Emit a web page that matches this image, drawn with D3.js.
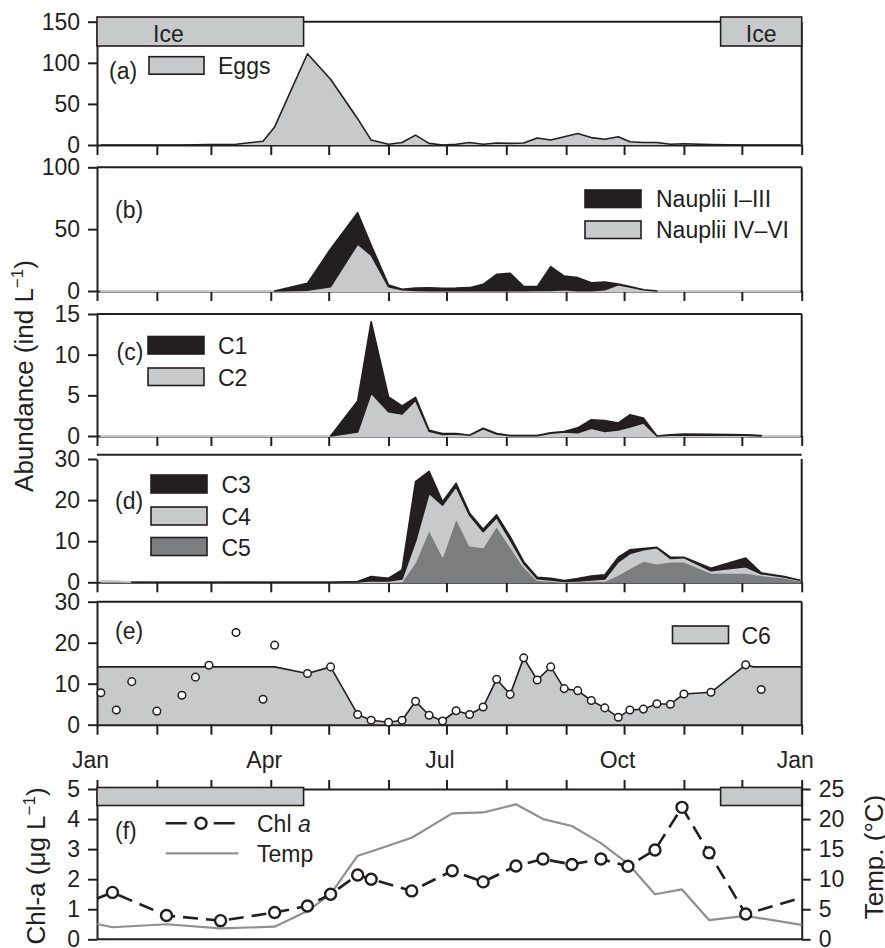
<!DOCTYPE html>
<html>
<head>
<meta charset="utf-8">
<script src="https://cdn.jsdelivr.net/npm/d3@7"></script>
<style>
  html, body { margin: 0; padding: 0; background: #fff; }
  svg { display: block; }
</style>
</head>
<body>
<svg id="chart" width="885" height="948"></svg>
<script>
// ---------------------------------------------------------------
// Seasonal record: copepod stages, chlorophyll and temperature
// ---------------------------------------------------------------
const YEAR = 2010;

// Sampling dates for the abundance panels (month-day)
const sampleDates = ["01-03","01-11","01-19","02-01","02-14","02-21","02-28","03-14","03-28","04-03",
                     "04-20","05-02","05-16","05-23","06-01","06-08","06-15","06-22","06-29","07-06",
                     "07-13","07-20","07-27","08-03","08-10","08-17","08-24","08-31","09-07","09-14",
                     "09-21","09-28","10-04","10-11","10-18","10-25","11-01","11-15","12-03","12-11",
                     "12-23","12-31"];

// (a) eggs, ind L-1
const eggs = [0,0,0,0,0,0.2,0.5,1,4.5,22, 111,80,32,6,1,3,12,2,0,1,
              3,1,2.5,2,2.5,8.5,6,10,14,9, 7,10,4,3,3,1,1.5,0.5,0,0, 0,0];

// (b) nauplii, ind L-1 (null = not in series)
const naupliiLate  = [0,0,0,0,0,0,0,0,0,0, 0.7,3.5,38,29,3.5,1.0,0.5,0.3,0.3,0.3,
                      0.3,0.3,0.3,0.3,0.3,0.5,0.5,1.0,0.3,0.3, 1.0,5.0,3.3,1.0,0,0,0,0,0,0, 0,0];
const naupliiEarly = [null,null,null,null,null,null,null,null,null,0, 5.5,30.5,25.3,8,1.3,0.4,1.9,2.2,1.9,2.0,
                      2.4,5.1,13.2,14.0,3.2,3.0,19.2,11.1,10.5,6.4, 6.3,0.6,0.3,0,0,null,null,null,null,null, null,null];

// (c) copepodites C1, C2
const c2 = [0,0,0,0,0,0,0,0,0,0, 0,0,0.5,5.3,3.0,2.7,4.4,0.6,0.2,0.25,
            0.1,0.9,0.25,0.05,0.05,0.05,0.35,0.5,0.4,0.95, 0.55,0.75,1.1,1.6,0,0.1,0.1,0.1,0.1,0, 0,0];
const c1 = [null,null,null,null,null,null,null,null,null,null, null,0,3.8,8.75,1.8,1.0,0.35,0.1,0.1,0.05,
            0,0.05,0.05,0,0,0,0.05,0.05,0.6,1.05, 1.35,0.85,1.5,0.6,0,0.05,0.15,0.1,0.05,0.05, null,null];

// (d) copepodites C3, C4, C5
const c5 = [0.2,0.2,0,0,0,0,0,0,0,0, 0,0,0,0.1,0.1,0.2,5,12.8,6.3,15.6,
            8.9,8.5,13.7,8.7,3.8,0.5,0.3,0.1,0.2,0.3, 0.3,1.8,3.4,5.2,4.5,5.0,5.0,2.3,2.3,1.7, 1.1,0.4];
const c4 = [0.1,0.1,0,0,0,0,0,0,0,0, 0,0,0.1,0.3,0.2,0.6,5,8.9,12.5,7.7,
            7.4,3.8,2.1,1.6,0.8,0.4,0.3,0.1,0.1,0.3, 0.5,3.2,3.6,2.7,3.9,0.8,1.0,0.5,1.5,0.4, 0.2,0.1];
const c3 = [null,null,0,0,0,0,0,0,0,0, 0,0,0.1,1.0,0.7,2.2,14.5,5.3,0.8,0.8,
            0.5,0.6,0.6,0.8,0.4,0.3,0.4,0.2,0.6,0.9, 1.0,1.1,0.9,0.3,0.1,0.3,0.1,0.6,2.1,0.2, 0.1,0];

// (e) adults C6 (sampled values) and the ice-period level drawn as the filled band
const c6 = [7.8,3.6,10.5,3.3,7.2,11.6,14.5,22.5,6.2,19.4, 12.5,14.1,2.5,1.1,0.6,1.1,5.7,2.3,0.9,3.4,
            2.5,4.3,11.1,7.4,16.3,10.9,14.1,8.8,8.3,5.9, 4.1,1.8,3.6,3.8,5.1,5.0,7.5,7.9,14.6,8.6, null,null];
const c6IceLevel = 14.1;
const c6LevelUntil = "04-03", c6LevelFrom = "12-07";
const c6LinkedFrom = "04-20", c6LinkedTo = "12-03";

// (f) chlorophyll a (µg L-1) and temperature (°C)
const envDates = ["01-09","02-06","03-06","04-03","04-20","05-02","05-16","05-23","06-13","07-04",
                  "07-20","08-06","08-20","09-04","09-19","10-03","10-17","10-31","11-14","12-03"];
const chl  = [1.56,0.79,0.62,0.89,1.11,1.50,2.14,2.00,1.61,2.28, 1.91,2.44,2.67,2.49,2.67,2.43,2.97,4.39,2.88,0.84];
const temp = [2.0,2.5,1.83,2.1,4.7,7.5,13.9,14.6,16.9,20.95, 21.1,22.45,20.0,18.85,16.0,12.6,7.5,8.3,3.2,3.9];
const chlYearEnds  = [1.36, 1.38];   // values at 1 Jan and at the following 1 Jan
const tempYearEnds = [2.55, 2.4];

// Ice cover
const iceOff = "04-18", iceOn = "11-20";

// Axis ticks
const eggTicks = [0, 50, 100, 150];
const naupliiTicks = [0, 50, 100];
const c12Ticks = [0, 5, 10, 15];
const c345Ticks = [0, 10, 20, 30];
const c6Ticks = [0, 10, 20, 30];
const chlTicks = [0, 1, 2, 3, 4, 5];
const tempTicks = [0, 5, 10, 15, 20, 25];

// ---------------------------------------------------------------
const INK = "#231f20", LIGHT = "#c8c9cb", DARK = "#7c7d7f", TEMP_GREY = "#8f8f8f";
const FONT = "'Liberation Sans', Arial, Helvetica, sans-serif";
const FS = 23;
const intFmt = d3.format("d");

const parseDay = d3.timeParse("%Y-%m-%d");
const day = s => parseDay(`${YEAR}-${s}`);
const yearStart = new Date(YEAR, 0, 1), yearEnd = new Date(YEAR + 1, 0, 1);
const dates = sampleDates.map(day);

const svg = d3.select("#chart").attr("font-family", FONT);

const x = d3.scaleTime().domain([yearStart, yearEnd]).range([97, 801.7]);
const monthTicks = d3.timeMonth.every(1);

function styleAxis(g) {
  g.attr("font-family", FONT).attr("font-size", FS);
  g.select(".domain").attr("stroke", INK).attr("stroke-width", 2);
  g.selectAll(".tick line").attr("stroke", INK).attr("stroke-width", 2);
  g.selectAll(".tick text").attr("fill", INK);
}

function makePanel(cfg) {
  const y = d3.scaleLinear().domain([cfg.ticks[0], cfg.ticks[cfg.ticks.length - 1]]).range([cfg.zero, cfg.top]);
  const g = svg.append("g");
  const layers = {
    under: g.append("g"),
    axes: g.append("g"),
    over: g.append("g"),
    top: g.append("g")
  };
  // frame: top and right edges
  const lift = cfg.lift || 0;
  layers.axes.append("path")
    .attr("d", `M${x.range()[0]},${y.range()[1] - lift}H${x.range()[1]}M${x.range()[1]},${y.range()[1]}V${y.range()[0]}`)
    .attr("fill", "none").attr("stroke", INK).attr("stroke-width", 2);
  // left axis
  layers.axes.append("g").attr("transform", `translate(${x.range()[0]},0)`)
    .call(d3.axisLeft(y).tickValues(cfg.ticks).tickFormat(intFmt).tickSize(9).tickSizeOuter(0).tickPadding(8))
    .call(styleAxis);
  // bottom axis with monthly ticks
  const bottom = layers.axes.append("g").attr("transform", `translate(0,${y.range()[0]})`)
    .call(d3.axisBottom(x).ticks(monthTicks).tickSize(10).tickSizeOuter(0)
      .tickFormat(cfg.monthLabels ? (d => d.getMonth() % 3 === 0 ? d3.timeFormat("%b")(d) : "") : () => ""))
    .call(styleAxis);
  if (cfg.monthLabels) {
    bottom.selectAll(".tick text").attr("y", 26.5).attr("dy", "0.71em").attr("dx", -7);
  }
  // panel letter
  layers.top.append("text").attr("x", cfg.lx).attr("y", cfg.ly)
    .attr("font-size", FS).attr("fill", INK).text(cfg.letter);
  return { y, layers };
}

// stacked areas, bottom layer first
function stackedAreas(target, y, layerDefs) {
  let base = dates.map(() => 0);
  layerDefs.forEach(L => {
    const pts = dates.map((d, i) => ({
      date: d, lo: base[i], hi: base[i] + (L.values[i] == null ? 0 : L.values[i]), ok: L.values[i] != null
    }));
    target.append("path")
      .datum(pts)
      .attr("d", d3.area().defined(p => p.ok).x(p => x(p.date)).y0(p => y(p.lo)).y1(p => y(p.hi)))
      .attr("fill", L.fill).attr("stroke", L.fill).attr("stroke-width", L.sw || 1.6)
      .attr("stroke-linejoin", "round");
    base = pts.map(p => p.hi);
  });
}

function legendBox(target, bx, by, w, h, fill, label, tx, ty) {
  target.append("rect").attr("x", bx).attr("y", by).attr("width", w).attr("height", h)
    .attr("fill", fill).attr("stroke", INK).attr("stroke-width", 1.6);
  target.append("text").attr("x", tx).attr("y", ty).attr("font-size", FS).attr("fill", INK).text(label);
}

// ---------------- (a) Eggs ----------------
{
  const { y, layers } = makePanel({ zero: 145, top: 21.7, ticks: eggTicks, letter: "(a)", lx: 109, ly: 79 });
  const pts = dates.map((d, i) => ({ date: d, v: eggs[i] }));
  layers.over.append("path").datum(pts)
    .attr("d", d3.area().x(p => x(p.date)).y0(y(0)).y1(p => y(p.v)))
    .attr("fill", LIGHT);
  layers.over.append("path").datum(pts)
    .attr("d", d3.line().x(p => x(p.date)).y(p => y(p.v)))
    .attr("fill", "none").attr("stroke", INK).attr("stroke-width", 1.6).attr("stroke-linejoin", "round");
  // ice cover bars
  const iceTop = 17, iceBot = 46;
  layers.top.append("rect").attr("x", x(yearStart)).attr("y", iceTop)
    .attr("width", x(day(iceOff)) - x(yearStart)).attr("height", iceBot - iceTop)
    .attr("fill", LIGHT).attr("stroke", INK).attr("stroke-width", 1.6);
  layers.top.append("rect").attr("x", x(day(iceOn))).attr("y", iceTop)
    .attr("width", x(yearEnd) - x(day(iceOn))).attr("height", iceBot - iceTop)
    .attr("fill", LIGHT).attr("stroke", INK).attr("stroke-width", 1.6);
  layers.top.append("text").attr("x", x(yearStart) + 56).attr("y", 41.5)
    .attr("font-size", FS).attr("fill", INK).text("Ice");
  layers.top.append("text").attr("x", (x(day(iceOn)) + x(yearEnd)) / 2).attr("y", 41.5)
    .attr("text-anchor", "middle").attr("font-size", FS).attr("fill", INK).text("Ice");
  legendBox(layers.top, 149, 56.7, 55, 17.5, LIGHT, "Eggs", 218, 74);
}

// ---------------- (b) Nauplii ----------------
{
  const { y, layers } = makePanel({ zero: 291, top: 167.3, ticks: naupliiTicks, letter: "(b)", lx: 115, ly: 218 });
  stackedAreas(layers.over, y, [
    { values: naupliiLate, fill: LIGHT, sw: 2 },
    { values: naupliiEarly, fill: INK }
  ]);
  legendBox(layers.top, 585, 190, 56, 17.5, INK, "Nauplii I\u2013III", 656, 207.3);
  legendBox(layers.top, 585, 221, 56, 17.5, LIGHT, "Nauplii IV\u2013VI", 656, 238.3);
}

// ---------------- (c) C1, C2 ----------------
{
  const { y, layers } = makePanel({ zero: 436, top: 314, ticks: c12Ticks, letter: "(c)", lx: 116.5, ly: 360 });
  stackedAreas(layers.over, y, [
    { values: c2, fill: LIGHT, sw: 2 },
    { values: c1, fill: INK }
  ]);
  legendBox(layers.top, 148, 336.5, 56, 17.5, INK, "C1", 218, 354.3);
  legendBox(layers.top, 148, 368, 56, 17.5, LIGHT, "C2", 218, 386);
}

// ---------------- (d) C3, C4, C5 ----------------
{
  const { y, layers } = makePanel({ zero: 582.3, top: 459, ticks: c345Ticks, letter: "(d)", lx: 115, ly: 509, lift: 4.3 });
  stackedAreas(layers.over, y, [
    { values: c5, fill: DARK },
    { values: c4, fill: LIGHT },
    { values: c3, fill: INK }
  ]);
  legendBox(layers.top, 151, 475, 56, 18, INK, "C3", 221.5, 493.3);
  legendBox(layers.top, 151, 507, 56, 18, LIGHT, "C4", 221.5, 524.5);
  legendBox(layers.top, 151, 537.5, 56, 18, DARK, "C5", 221.5, 555.5);
}

// ---------------- (e) C6 ----------------
{
  const { y, layers } = makePanel({ zero: 724.7, top: 601.7, ticks: c6Ticks, letter: "(e)", lx: 115, ly: 639, monthLabels: true });
  const lo = day(c6LinkedFrom), hi = day(c6LinkedTo);
  const linked = dates.map((d, i) => ({ date: d, v: c6[i] }))
    .filter(p => p.v != null && p.date >= lo && p.date <= hi);
  const band = [
    { date: yearStart, v: c6IceLevel },
    { date: day(c6LevelUntil), v: c6IceLevel },
    ...linked,
    { date: day(c6LevelFrom), v: c6IceLevel },
    { date: yearEnd, v: c6IceLevel }
  ];
  layers.under.append("path").datum(band)
    .attr("d", d3.area().x(p => x(p.date)).y0(y(0)).y1(p => y(p.v)))
    .attr("fill", LIGHT);
  layers.over.append("path").datum(band)
    .attr("d", d3.line().x(p => x(p.date)).y(p => y(p.v)))
    .attr("fill", "none").attr("stroke", INK).attr("stroke-width", 1.6).attr("stroke-linejoin", "round");
  layers.over.selectAll("circle.c6")
    .data(dates.map((d, i) => ({ date: d, v: c6[i] })).filter(p => p.v != null))
    .join("circle").attr("class", "c6")
    .attr("cx", p => x(p.date)).attr("cy", p => y(p.v)).attr("r", 3.8)
    .attr("fill", "#fff").attr("stroke", INK).attr("stroke-width", 1.5);
  legendBox(layers.top, 672.5, 626, 56, 17.5, LIGHT, "C6", 741.5, 644);
}

// ---------------- (f) Chl a and temperature ----------------
{
  const yChl = d3.scaleLinear().domain([0, 5]).range([939.3, 789]);
  const yT = d3.scaleLinear().domain([0, 25]).range([939.3, 789]);
  const g = svg.append("g");
  const envPts = envDates.map((s, i) => ({ date: day(s), c: chl[i], t: temp[i] }));

  // frame
  g.append("line").attr("x1", x.range()[0]).attr("x2", x.range()[1]).attr("y1", 939.3).attr("y2", 939.3)
    .attr("stroke", INK).attr("stroke-width", 2);
  g.append("g").attr("transform", `translate(${x.range()[0]},0)`)
    .call(d3.axisLeft(yChl).tickValues(chlTicks).tickFormat(intFmt).tickSize(9).tickSizeOuter(0).tickPadding(8))
    .call(styleAxis);
  g.append("g").attr("transform", `translate(${x.range()[1]},0)`)
    .call(d3.axisRight(yT).tickValues(tempTicks).tickFormat(intFmt).tickSize(9).tickSizeOuter(0).tickPadding(8))
    .call(styleAxis);
  g.append("g").attr("transform", "translate(0,789)")
    .call(d3.axisTop(x).ticks(monthTicks).tickSize(9).tickSizeOuter(0).tickFormat(() => ""))
    .call(styleAxis);

  // temperature
  const tLine = [{ date: yearStart, t: tempYearEnds[0] }, ...envPts, { date: yearEnd, t: tempYearEnds[1] }];
  g.append("path").datum(tLine)
    .attr("d", d3.line().x(p => x(p.date)).y(p => yT(p.t)))
    .attr("fill", "none").attr("stroke", TEMP_GREY).attr("stroke-width", 2.2).attr("stroke-linejoin", "round");

  // chlorophyll
  const cLine = [{ date: yearStart, c: chlYearEnds[0] }, ...envPts, { date: yearEnd, c: chlYearEnds[1] }];
  g.append("path").datum(cLine)
    .attr("d", d3.line().x(p => x(p.date)).y(p => yChl(p.c)))
    .attr("fill", "none").attr("stroke", INK).attr("stroke-width", 2.6)
    .attr("stroke-dasharray", "15,8");
  g.selectAll("circle.chl").data(envPts).join("circle").attr("class", "chl")
    .attr("cx", p => x(p.date)).attr("cy", p => yChl(p.c)).attr("r", 5.5)
    .attr("fill", "#fff").attr("stroke", INK).attr("stroke-width", 2.4);

  // ice cover bars
  const iceTop = 787.5, iceBot = 805.5;
  g.append("rect").attr("x", x(yearStart)).attr("y", iceTop)
    .attr("width", x(day(iceOff)) - x(yearStart)).attr("height", iceBot - iceTop)
    .attr("fill", LIGHT).attr("stroke", INK).attr("stroke-width", 1.6);
  g.append("rect").attr("x", x(day(iceOn))).attr("y", iceTop)
    .attr("width", x(yearEnd) - x(day(iceOn))).attr("height", iceBot - iceTop)
    .attr("fill", LIGHT).attr("stroke", INK).attr("stroke-width", 1.6);

  // legend
  g.append("text").attr("x", 115).attr("y", 839).attr("font-size", FS).attr("fill", INK).text("(f)");
  g.append("line").attr("x1", 165.7).attr("x2", 238.3).attr("y1", 823.3).attr("y2", 823.3)
    .attr("stroke", INK).attr("stroke-width", 2.6).attr("stroke-dasharray", "21,27");
  g.append("circle").attr("cx", 201).attr("cy", 823.3).attr("r", 5.5)
    .attr("fill", "#fff").attr("stroke", INK).attr("stroke-width", 2.4);
  const chlLabel = g.append("text").attr("x", 257).attr("y", 831.5).attr("font-size", FS).attr("fill", INK);
  chlLabel.append("tspan").text("Chl ");
  chlLabel.append("tspan").attr("font-style", "italic").text("a");
  g.append("line").attr("x1", 165.7).attr("x2", 238.3).attr("y1", 853.3).attr("y2", 853.3)
    .attr("stroke", TEMP_GREY).attr("stroke-width", 2.2);
  g.append("text").attr("x", 257).attr("y", 861.5).attr("font-size", FS).attr("fill", INK).text("Temp");
}

// ---------------- axis titles ----------------
function rotatedTitle(tx, ty, main, sup, tail) {
  const t = svg.append("text").attr("transform", `translate(${tx},${ty}) rotate(-90)`)
    .attr("text-anchor", "middle").attr("font-size", 26).attr("fill", INK);
  t.append("tspan").text(main);
  if (sup) {
    t.append("tspan").attr("font-size", 17).attr("dy", -10).text(sup);
    t.append("tspan").attr("dy", 10).text(tail);
  }
  return t;
}
rotatedTitle(33, 376, "Abundance (ind L", "\u22121", ")");
rotatedTitle(45, 866, "Chl-a (\u03bcg L", "\u22121", ")");
rotatedTitle(883, 857, "Temp. (\u00b0C)");
</script>
</body>
</html>
